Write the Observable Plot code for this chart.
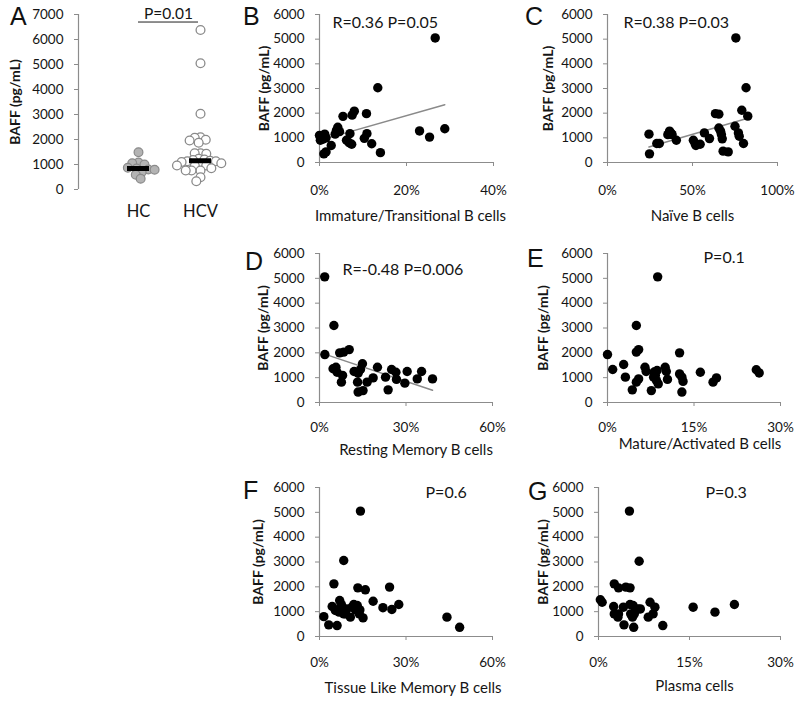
<!DOCTYPE html>
<html>
<head>
<meta charset="utf-8">
<script src="https://cdn.jsdelivr.net/npm/d3@7"></script>
<script src="https://cdn.jsdelivr.net/npm/@observablehq/plot@0.6"></script>
<style>
html,body{margin:0;padding:0;background:#fff;}
#fig{position:relative;width:800px;height:703px;overflow:hidden;background:#fff;}
.panel{position:absolute;}
.letter{position:absolute;font-family:"Liberation Sans",Arial,sans-serif;font-size:25px;line-height:25px;color:#111;}
.panel svg g[aria-label$="-axis tick"]{stroke:#8c8c8c;}
.panel svg g[aria-label$="-axis"] .tick line{stroke:#8c8c8c;}
</style>
</head>
<body>
<div id="fig"></div>
<script>
// ---------------- DATA ----------------
const groupsA = ["HC", "HCV"];
const hcBAFF = [1490, 1080, 1050, 1000, 870, 840, 800, 790, 690, 590, 430];
const hcvBAFF = [6380, 5050, 3030, 2090, 2070, 1990, 1960, 1870, 1450, 1450, 1430, 1230, 1200, 1180, 1150, 1130, 1130, 1100, 1050, 1000, 960, 960, 950, 850, 760, 760, 760, 490, 330];
const yTicksA = [0, 1000, 2000, 3000, 4000, 5000, 6000, 7000];
const yTicks = [0, 1000, 2000, 3000, 4000, 5000, 6000];

// B: Immature/Transitional B cells (%)
const immatureX = [0.0, 0.2, 0.4, 0.6, 0.8, 1.2, 1.5, 1.0, 1.5, 2.7, 3.6, 3.9, 4.2, 4.6, 5.4, 6.2, 6.8, 7.4, 7.0, 7.5, 8.0, 10.3, 10.8, 10.9, 12.0, 13.4, 14.0, 23.0, 25.3, 26.6, 28.8];
const immatureBAFF = [1100, 900, 1000, 1050, 950, 1150, 1000, 350, 430, 690, 1150, 1300, 1430, 1250, 1870, 900, 800, 740, 1170, 1920, 2080, 980, 1980, 1170, 760, 3030, 400, 1280, 1030, 5050, 1370];
const immatureTicks = [0, 20, 40];

// C: Naive B cells (%)
const naiveX = [24.4, 24.7, 29.0, 30.5, 35.5, 36.5, 37.5, 38.0, 40.5, 50.5, 51.5, 52.0, 54.5, 57.0, 60.0, 63.5, 65.5, 65.5, 66.5, 67.0, 67.5, 68.0, 71.0, 75.0, 75.5, 77.0, 77.5, 79.0, 80.0, 81.5, 82.5];
const naiveBAFF = [1150, 350, 770, 770, 1130, 1270, 1180, 1130, 900, 900, 770, 690, 740, 1200, 970, 1980, 1960, 1400, 1270, 1135, 960, 460, 430, 1470, 5050, 1200, 1065, 2120, 770, 3030, 1880];
const naiveTicks = [0, 50, 100];

// D: Resting Memory B cells (%)
const restingX = [1.8, 1.85, 5.0, 7.0, 8.4, 10.3, 4.7, 5.7, 6.1, 8.0, 7.6, 12.0, 13.4, 14.9, 14.2, 13.2, 13.4, 15.1, 16.5, 18.6, 20.1, 22.9, 23.8, 25.0, 26.5, 26.7, 29.6, 30.4, 33.9, 35.4, 39.2];
const restingBAFF = [5060, 1930, 3100, 2000, 2030, 2130, 1360, 1420, 1220, 1090, 820, 1250, 1180, 1560, 1330, 820, 420, 480, 820, 990, 1420, 1020, 510, 1330, 1220, 930, 780, 1250, 950, 1250, 950];
const restingTicks = [0, 30, 60];

// E: Mature/Activated B cells (%)
const matureX = [0.0, 0.9, 2.8, 3.1, 4.3, 5.0, 5.0, 5.4, 5.0, 5.4, 6.5, 6.7, 7.6, 8.1, 8.0, 8.3, 8.6, 8.5, 8.8, 8.7, 10.0, 10.2, 10.4, 12.5, 12.5, 12.9, 13.1, 12.9, 16.1, 18.3, 18.9, 25.8, 26.3];
const matureBAFF = [1930, 1330, 1530, 1020, 510, 3100, 2030, 2130, 820, 950, 1420, 1250, 480, 1230, 1020, 1090, 1290, 880, 750, 5060, 1420, 1250, 930, 2000, 1150, 1020, 850, 420, 1220, 820, 990, 1320, 1190];
const matureTicks = [0, 15, 30];

// F: Tissue Like Memory B cells (%)
const tissueX = [1.5, 3.2, 6.1, 5.0, 4.4, 5.5, 7.0, 7.6, 7.3, 6.8, 8.4, 9.5, 9.0, 8.4, 10.7, 11.3, 12.5, 11.9, 13.1, 14.0, 13.8, 14.2, 13.3, 15.9, 15.1, 18.6, 22.0, 24.3, 25.1, 27.5, 44.2, 48.6];
const tissueBAFF = [800, 470, 440, 2120, 1210, 1050, 1450, 1290, 1180, 980, 910, 1110, 910, 3060, 780, 1180, 1070, 1290, 1250, 1070, 910, 5050, 1960, 1880, 750, 1420, 1160, 1990, 1090, 1290, 780, 370];
const tissueTicks = [0, 30, 60];

// G: Plasma cells (%)
const plasmaX = [0.3, 0.6, 2.6, 3.3, 4.5, 5.2, 2.6, 3.2, 3.3, 4.1, 2.5, 4.2, 5.2, 5.7, 5.3, 5.6, 5.9, 6.1, 6.5, 6.9, 5.1, 6.7, 5.8, 8.5, 8.2, 9.0, 9.3, 10.6, 15.6, 19.2, 22.4];
const plasmaBAFF = [1480, 1380, 2120, 1960, 1990, 1960, 910, 780, 910, 1180, 1210, 470, 1290, 1250, 913, 780, 910, 1050, 1110, 1110, 5050, 3030, 370, 1380, 780, 910, 1180, 440, 1180, 980, 1290];
const plasmaTicks = [0, 15, 30];

const yTitle = "BAFF (pg/mL)";

// ---------------- LAYOUT ----------------
const FONT = "Lato, 'Open Sans', sans-serif";
const AXIS = "#8c8c8c";
const INK = "#151515";
const fig = document.getElementById("fig");

function place(node, left, top, width, height) {
  const d = document.createElement("div");
  d.className = "panel";
  d.style.left = left + "px"; d.style.top = top + "px";
  d.style.width = width + "px"; d.style.height = height + "px";
  d.appendChild(node);
  fig.appendChild(d);
}

function baseStyle() {
  return {fontFamily: FONT, fontSize: "13.5px", color: INK, background: "transparent", overflow: "visible"};
}

function yTitleMark(dx) {
  return Plot.text([yTitle], {text: d => d, frameAnchor: "left", textAnchor: "middle", lineAnchor: "middle", rotate: -90, dx, fontSize: 14, fontWeight: 700, fill: INK});
}

function scatter(L, xs, ys, xTicks, xTitle, note, fit) {
  const data = xs.map((x, i) => ({x, y: ys[i]}));
  const marks = [
    Plot.ruleY([0], {stroke: AXIS, strokeWidth: 1.2}),
    Plot.ruleX([0], {stroke: AXIS, strokeWidth: 1.2})
  ];
  if (fit) marks.push(Plot.linearRegressionY(data, {x: "x", y: "y", stroke: "#8a8a8a", strokeWidth: 1.5, ci: 0}));
  marks.push(Plot.dot(data, {x: "x", y: "y", r: 4.7, fill: "#000"}));
  marks.push(Plot.text([note], {text: d => d, frameAnchor: "top-left", textAnchor: "start", lineAnchor: "middle", dx: L.noteDx, dy: L.noteDy, fontSize: 16, fill: INK}));
  marks.push(Plot.text([xTitle], {text: d => d, frameAnchor: "bottom", textAnchor: "middle", lineAnchor: "middle", dx: L.titleDx, dy: L.titleDy, fontSize: 15, fill: INK}));
  marks.push(yTitleMark(L.yTitleDx));
  const p = Plot.plot({
    width: L.width, height: L.height,
    marginLeft: L.ml, marginRight: L.mr, marginTop: L.mt, marginBottom: L.mb,
    style: baseStyle(),
    x: {domain: [xTicks[0], xTicks[xTicks.length - 1]], ticks: xTicks, tickFormat: d => d + "%", label: null, tickSize: 4, tickPadding: L.xPad},
    y: {domain: [0, 6000], ticks: yTicks, tickFormat: d3.format("d"), label: null, tickSize: 4, tickPadding: 11},
    marks
  });
  place(p, L.left, L.top, L.width, L.height);
}

const layout = {
  B: {left: 240, top: 0, width: 280, height: 230, ml: 79, mr: 27, mt: 14, mb: 68, xPad: 19, noteDx: 13, noteDy: 8.5, titleDx: 4, titleDy: 54, yTitleDx: -55},
  C: {left: 520, top: 0, width: 280, height: 230, ml: 87, mr: 23, mt: 14, mb: 68, xPad: 19, noteDx: 16, noteDy: 8.5, titleDx: 0, titleDy: 54, yTitleDx: -59},
  D: {left: 240, top: 220, width: 280, height: 240, ml: 79, mr: 28, mt: 33, mb: 58, xPad: 16, noteDx: 23, noteDy: 16, titleDx: 10, titleDy: 47.5, yTitleDx: -56},
  E: {left: 520, top: 220, width: 280, height: 240, ml: 87, mr: 20, mt: 33, mb: 58, xPad: 16, noteDx: 96, noteDy: 4, titleDx: 6, titleDy: 42, yTitleDx: -64},
  F: {left: 240, top: 450, width: 280, height: 253, ml: 79, mr: 28, mt: 37, mb: 67, xPad: 17, noteDx: 106, noteDy: 5, titleDx: 7, titleDy: 52, yTitleDx: -61},
  G: {left: 520, top: 450, width: 280, height: 253, ml: 78, mr: 20, mt: 37, mb: 67, xPad: 17, noteDx: 107, noteDy: 5, titleDx: 5, titleDy: 50, yTitleDx: -55}
};

// ---------------- PANEL A ----------------
{
  const W = 240, H = 230, mt = 14, mb = 41;
  const axisPlot = Plot.plot({
    width: W, height: H, marginLeft: 78, marginRight: 9, marginTop: mt, marginBottom: mb,
    style: baseStyle(),
    x: {domain: [0, 1], axis: null},
    y: {domain: [0, 7000], ticks: yTicksA, tickFormat: d3.format("d"), label: null, tickSize: 4, tickPadding: 11},
    marks: [
      Plot.ruleX([0], {stroke: AXIS, strokeWidth: 1.2}),
      yTitleMark(-63)
    ]
  });
  place(axisPlot, 0, 0, W, H);

  const hc = hcBAFF.map(v => ({group: "HC", v}));
  const hcv = hcvBAFF.map(v => ({group: "HCV", v}));
  const medians = [{group: "HC", v: d3.median(hcBAFF)}, {group: "HCV", v: d3.median(hcvBAFF)}];
  const bracket = d3.max(hcvBAFF) * 1.05;
  const groupPlot = Plot.plot({
    width: W, height: H, marginLeft: 107, marginRight: 9, marginTop: mt, marginBottom: mb,
    style: baseStyle(),
    fx: {domain: groupsA, padding: 0, axis: null, label: null},
    y: {domain: [0, 7000], axis: null},
    marks: [
      Plot.dot(hc, Plot.dodgeX({anchor: "middle", padding: -2.5}, {fx: "group", y: "v", r: 4.4, fill: "#b3b3b3", stroke: "#8a8a8a", strokeWidth: 1.2})),
      Plot.dot(hcv, Plot.dodgeX({anchor: "middle", padding: -3}, {fx: "group", y: "v", r: 4.4, fill: "#fff", stroke: "#8a8a8a", strokeWidth: 1.3})),
      Plot.tickY(medians, {fx: "group", y: "v", stroke: "#000", strokeWidth: 5, insetLeft: 20, insetRight: 20}),
      Plot.tickY([{group: "HC", v: bracket}], {fx: "group", y: "v", stroke: "#444", strokeWidth: 1.2, insetLeft: 31}),
      Plot.tickY([{group: "HCV", v: bracket}], {fx: "group", y: "v", stroke: "#444", strokeWidth: 1.2, insetRight: 33}),
      Plot.text([{group: "HC", t: "P=0.01"}], {fx: "group", text: "t", frameAnchor: "top-right", textAnchor: "middle", lineAnchor: "middle", dx: -1, dy: 0, fontSize: 15.5, fill: INK}),
      Plot.text(groupsA.map(g => ({group: g})), {fx: "group", text: "group", frameAnchor: "bottom", textAnchor: "middle", lineAnchor: "middle", dy: 22.5, fontSize: 16.5, fill: INK})
    ]
  });
  place(groupPlot, 0, 0, W, H);
}

// ---------------- PANELS B-G ----------------
scatter(layout.B, immatureX, immatureBAFF, immatureTicks, "Immature/Transitional B cells", "R=0.36 P=0.05", true);
scatter(layout.C, naiveX, naiveBAFF, naiveTicks, "Naïve B cells", "R=0.38 P=0.03", true);
scatter(layout.D, restingX, restingBAFF, restingTicks, "Resting Memory B cells", "R=-0.48 P=0.006", true);
scatter(layout.E, matureX, matureBAFF, matureTicks, "Mature/Activated B cells", "P=0.1", false);
scatter(layout.F, tissueX, tissueBAFF, tissueTicks, "Tissue Like Memory B cells", "P=0.6", false);
scatter(layout.G, plasmaX, plasmaBAFF, plasmaTicks, "Plasma cells", "P=0.3", false);

// ---------------- PANEL LETTERS ----------------
const letters = [["A", 10, 4], ["B", 243, 4], ["C", 525, 4], ["D", 245, 249], ["E", 527, 246], ["F", 243, 478], ["G", 528, 479]];
for (const [t, x, y] of letters) {
  const s = document.createElement("div");
  s.className = "letter";
  s.style.left = x + "px"; s.style.top = y + "px";
  s.textContent = t;
  fig.appendChild(s);
}
</script>
</body>
</html>
